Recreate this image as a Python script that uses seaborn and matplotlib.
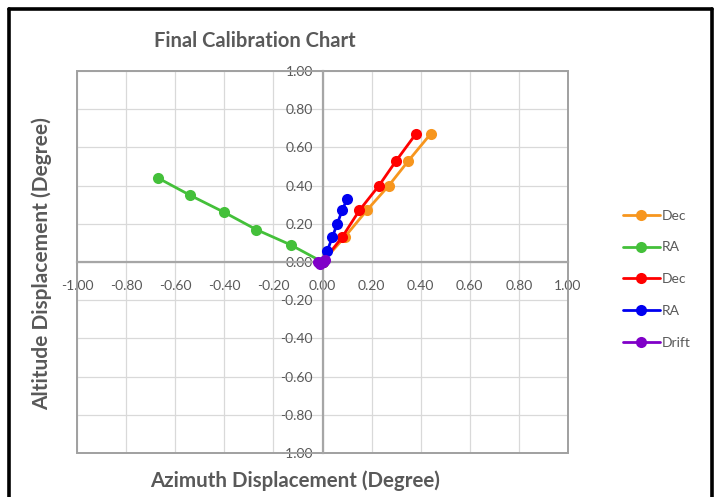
import matplotlib
matplotlib.use("Agg")
import matplotlib.pyplot as plt
import seaborn as sns
import pandas as pd
from matplotlib.patches import Rectangle
from matplotlib.lines import Line2D

# =========================
# DATA
# =========================
dec1_x = [0.0, 0.09, 0.18, 0.27, 0.35, 0.44]
dec1_y = [0.0, 0.13, 0.27, 0.40, 0.53, 0.67]

ra1_x = [0.0, -0.13, -0.27, -0.40, -0.54, -0.67]
ra1_y = [0.0, 0.09, 0.17, 0.26, 0.35, 0.44]

dec2_x = [0.0, 0.08, 0.15, 0.23, 0.30, 0.38]
dec2_y = [0.0, 0.13, 0.27, 0.40, 0.53, 0.67]

ra2_x = [0.0, 0.02, 0.04, 0.06, 0.08, 0.10]
ra2_y = [0.0, 0.06, 0.13, 0.20, 0.27, 0.33]

drift_x = [-0.02, -0.01, 0.0, 0.01]
drift_y = [0.0, -0.01, 0.0, 0.01]

series = [
    ("Dec", dec1_x, dec1_y, "#F7961E"),
    ("RA", ra1_x, ra1_y, "#44C03A"),
    ("Dec", dec2_x, dec2_y, "#FF0000"),
    ("RA", ra2_x, ra2_y, "#0000F0"),
    ("Drift", drift_x, drift_y, "#8000C8"),
]

ticks = [-1.0, -0.8, -0.6, -0.4, -0.2, 0.0, 0.2, 0.4, 0.6, 0.8, 1.0]

# =========================
# PLOT
# =========================
sns.set_style("white")
plt.rcParams["font.family"] = ["Lato", "DejaVu Sans"]
TXT = "#595959"

fig = plt.figure(figsize=(7.15, 4.97), dpi=100)
ax = fig.add_axes([0.1077, 0.0885, 0.6867, 0.7686])

for name, xs, ys, col in series:
    df = pd.DataFrame({"x": xs, "y": ys})
    sns.lineplot(data=df, x="x", y="y", sort=False, color=col, marker="o",
                 markersize=8, markeredgewidth=0, linewidth=2.0,
                 label=name, ax=ax)

ax.set_xlim(-1, 1)
ax.set_ylim(-1, 1)
ax.set_xticks(ticks)
ax.set_yticks(ticks)
ax.set_xticklabels([f"{t:.2f}" for t in ticks])
ax.set_yticklabels([f"{t:.2f}" for t in ticks])
ax.grid(True, color="#D9D9D9", linewidth=0.9)
ax.set_axisbelow(True)

for s in ["top", "right"]:
    ax.spines[s].set_visible(False)
ax.spines["left"].set_position(("data", 0))
ax.spines["bottom"].set_position(("data", 0))
for s in ["left", "bottom"]:
    ax.spines[s].set_color("#A6A6A6")
    ax.spines[s].set_linewidth(1.6)
    ax.spines[s].set_zorder(1.5)

ax.add_patch(Rectangle((0, 0), 1, 1, transform=ax.transAxes, fill=False,
                       edgecolor="#A0A0A0", linewidth=1.4, clip_on=False,
                       zorder=1))

ax.tick_params(axis="both", length=0, labelsize=10, labelcolor=TXT)
ax.tick_params(axis="x", pad=13)
ax.tick_params(axis="y", pad=7)

ax.set_xlabel("")
ax.set_ylabel("")
fig.text(0.413, 0.032, "Azimuth Displacement (Degree)", ha="center",
         va="center", fontsize=14.8, fontweight="bold", color=TXT)
fig.text(0.059, 0.47, "Altitude Displacement (Degree)", ha="center",
         va="center", rotation=90, fontsize=15, fontweight="bold", color=TXT)
fig.text(0.357, 0.918, "Final Calibration Chart", ha="center", va="center",
         fontsize=14.5, fontweight="bold", color=TXT)

leg = ax.legend(loc="center left", bbox_to_anchor=(1.1, 0.455), frameon=False,
                fontsize=10, labelspacing=1.42, handlelength=2.7,
                handletextpad=0.15, borderaxespad=0)
for t in leg.get_texts():
    t.set_color(TXT)

# outer black frame (bottom edge cut off in the reference)
fx0, fx1, fy = 8.5 / 715, 712 / 715, 1 - 9 / 497
for xs_, ys_ in [([fx0, fx1], [fy, fy]), ([fx0, fx0], [fy, 0]),
                 ([fx1, fx1], [fy, 0])]:
    fig.add_artist(Line2D(xs_, ys_, transform=fig.transFigure,
                          color="black", linewidth=2.6))

fig.savefig("out.png", dpi=100, facecolor="white")
plt.close(fig)
